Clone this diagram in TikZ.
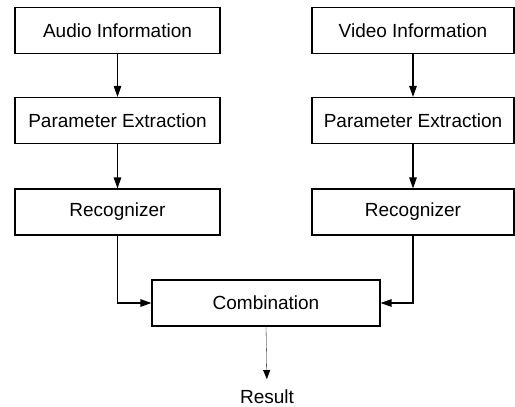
\documentclass[tikz,border=0pt]{standalone}
\usepackage{fontspec}
\setmainfont{Liberation Sans}
\usetikzlibrary{arrows.meta,calc}
\begin{document}
\begin{tikzpicture}[x=1pt,y=-1pt,
  box/.style={draw=black,line width=1.1pt,minimum height=46pt,inner sep=0pt,
    font=\fontsize{19}{22}\selectfont},
  conn/.style={draw=black,line width=1.2pt,-{Triangle[length=11pt,width=7.5pt]}},
  lbl/.style={inner sep=0pt,font=\fontsize{19}{22}\selectfont}]
\useasboundingbox (0,0) rectangle (515,407);
% left column
\node[box,minimum width=205pt] (aud) at (117.5,30.5) {Audio Information};
\node[box,minimum width=205pt] (pel) at (117.5,120.5) {Parameter Extraction};
\node[box,minimum width=205pt] (rl)  at (117.5,212) {Recognizer};
% right column
\node[box,minimum width=202pt] (vid) at (413,30.5) {Video Information};
\node[box,minimum width=202pt] (per) at (413,120.5) {Parameter Extraction};
\node[box,minimum width=202pt] (rr)  at (413,212) {Recognizer};
% combination and result
\node[box,minimum width=228pt] (comb) at (266,303) {Combination};
\node[lbl,anchor=base] (res) at (267,403) {Result};
% connectors
\draw[conn] (aud) -- (pel);
\draw[conn] (pel) -- (rl);
\draw[conn] (vid) -- (per);
\draw[conn] (per) -- (rr);
\draw[conn] (rl.south) |- (comb.west);
\draw[conn] (rr.south) |- (comb.east);
\draw[draw=black,line width=0.3pt,-{Triangle[length=9pt,width=7pt]},shorten >=10pt] (comb.south) -- (res.north);
\end{tikzpicture}
\end{document}
